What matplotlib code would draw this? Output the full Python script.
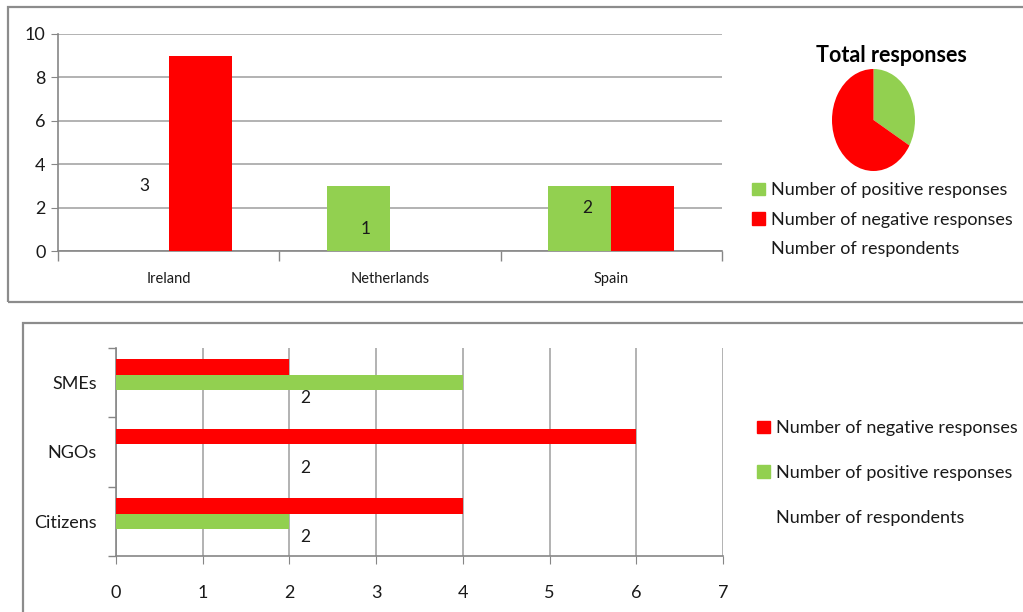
import matplotlib
matplotlib.use("Agg")
import matplotlib.pyplot as plt
import numpy as np
from matplotlib.patches import Rectangle, Patch

plt.rcParams['font.family'] = ['Lato', 'DejaVu Sans']

GREEN = '#92D050'
RED = '#FF0000'
GRID = '#A6A6A6'
AXIS = '#868686'
BORDER = '#8C8C8C'
TXT = '#1a1a1a'

# Responses by country
countries = ['Ireland', 'Netherlands', 'Spain']
country_positive = [0, 3, 3]
country_negative = [9, 0, 3]
country_respondents = [3, 1, 2]

# Responses by stakeholder group
groups = ['Citizens', 'NGOs', 'SMEs']
group_negative = [4, 6, 2]
group_positive = [2, 0, 4]
group_respondents = [2, 2, 2]

W, H = 1023, 612
fig = plt.figure(figsize=(W / 100, H / 100), dpi=100)
fig.patch.set_facecolor('white')


def fx(px):
    return px / W


def fy(py):
    return 1 - py / H


# Panel frames
fig.add_artist(Rectangle((fx(8), fy(302)), fx(1030) - fx(8), fy(7) - fy(302),
                         transform=fig.transFigure, fill=False,
                         edgecolor=BORDER, lw=1.6))
fig.add_artist(Rectangle((fx(23), fy(630)), fx(1030) - fx(23), fy(323) - fy(630),
                         transform=fig.transFigure, fill=False,
                         edgecolor=BORDER, lw=1.6))

# ---- Column chart by country ----
ax = fig.add_axes([fx(58), fy(251), fx(722) - fx(58), fy(34) - fy(251)])
x = np.arange(len(countries))
bw = 0.285
ax.bar(x - bw / 2, country_positive, bw, color=GREEN, zorder=3)
ax.bar(x + bw / 2, country_negative, bw, color=RED, zorder=3)
for xi, v in zip(x, country_respondents):
    ax.text(xi - 0.11, v, str(v), ha='center', va='center',
            fontsize=12.5, color=TXT, zorder=4)
ax.set_xlim(-0.5, len(countries) - 0.5)
ax.set_ylim(0, 10)
ax.set_yticks(range(0, 11, 2))
ax.set_xticks(x)
ax.set_xticklabels(countries, fontsize=10.5, color=TXT)
ax.set_xticks(np.arange(-0.5, len(countries)), minor=True)
ax.tick_params(axis='x', which='major', length=0, pad=15)
ax.tick_params(axis='x', which='minor', length=7, color=AXIS, width=1)
ax.tick_params(axis='y', length=5, color=AXIS, labelsize=13, labelcolor=TXT, pad=4)
ax.yaxis.grid(True, color=GRID, lw=1.2, zorder=0)
for s in ['top', 'right']:
    ax.spines[s].set_visible(False)
for s in ['left', 'bottom']:
    ax.spines[s].set_color(AXIS)
    ax.spines[s].set_linewidth(1.2)

# ---- Pie of total responses ----
pax = fig.add_axes([fx(832), fy(171), fx(915) - fx(832), fy(69) - fy(171)])
pax.pie([sum(country_positive), sum(country_negative)], colors=[GREEN, RED],
        startangle=90, counterclock=False, radius=1,
        wedgeprops=dict(linewidth=0))
pax.set_aspect('auto')
pax.set_xlim(-1, 1)
pax.set_ylim(-1, 1)
pax.axis('off')
fig.text(fx(891), fy(55), 'Total responses', ha='center', va='center',
         fontsize=15.5, fontweight='bold', color='black')

top_handles = [Patch(color=GREEN, label='Number of positive responses'),
               Patch(color=RED, label='Number of negative responses'),
               Patch(color='none', label='Number of respondents')]
fig.legend(handles=top_handles, loc='upper left',
           bbox_to_anchor=(fx(745), fy(175)), frameon=False,
           fontsize=13, handlelength=0.7, handleheight=0.7,
           handletextpad=0.35, labelspacing=0.75, borderaxespad=0,
           labelcolor=TXT)

# ---- Bar chart by stakeholder group ----
bx = fig.add_axes([fx(116), fy(556), fx(723) - fx(116), fy(348) - fy(556)])
y = np.arange(len(groups))
bh = 0.225
bx.barh(y + bh, group_negative, bh, color=RED, zorder=3)
bx.barh(y, group_positive, bh, color=GREEN, zorder=3)
bx.barh(y - bh, group_respondents, bh, color='none', zorder=3)
for yi, v in zip(y, group_respondents):
    bx.text(v + 0.12, yi - bh, str(v), ha='left', va='center',
            fontsize=12.5, color=TXT, zorder=4)
bx.set_ylim(-0.5, len(groups) - 0.5)
bx.set_xlim(0, 7)
bx.set_xticks(range(0, 8))
bx.set_yticks(y)
bx.set_yticklabels(groups, fontsize=13, color=TXT)
bx.set_yticks(np.arange(-0.5, len(groups)), minor=True)
bx.tick_params(axis='y', which='major', length=0, pad=14)
bx.tick_params(axis='y', which='minor', length=6, color=AXIS, width=1)
bx.tick_params(axis='x', length=6, color=AXIS, labelsize=13, labelcolor=TXT, pad=15)
bx.xaxis.grid(True, color=GRID, lw=1.2, zorder=0)
for s in ['top', 'right']:
    bx.spines[s].set_visible(False)
for s in ['left', 'bottom']:
    bx.spines[s].set_color(AXIS)
    bx.spines[s].set_linewidth(1.2)

bottom_handles = [Patch(color=RED, label='Number of negative responses'),
                  Patch(color=GREEN, label='Number of positive responses'),
                  Patch(color='none', label='Number of respondents')]
fig.legend(handles=bottom_handles, loc='upper left',
           bbox_to_anchor=(fx(750), fy(413)), frameon=False,
           fontsize=13, handlelength=0.7, handleheight=0.7,
           handletextpad=0.35, labelspacing=1.6, borderaxespad=0,
           labelcolor=TXT)

fig.savefig('out.png', dpi=100)
